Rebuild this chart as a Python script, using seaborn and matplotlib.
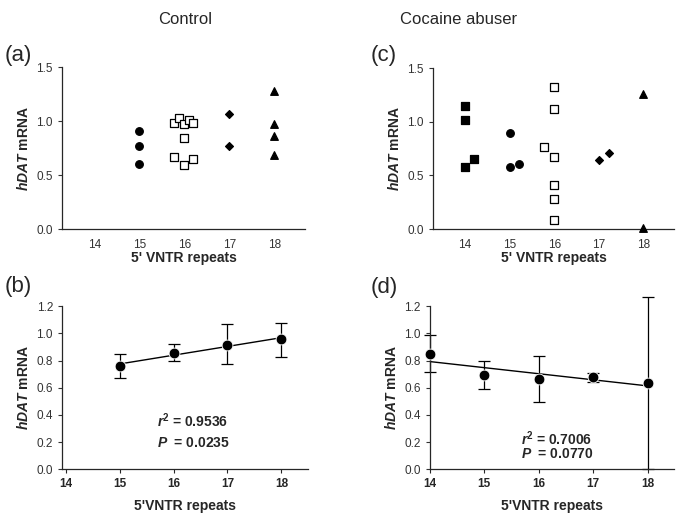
import numpy as np
import pandas as pd
import matplotlib
matplotlib.use("Agg")
import matplotlib.pyplot as plt
import seaborn as sns

# (a) control: individual samples (x includes small horizontal spread as drawn)
ctrl_x = [15, 15, 15,
          15.77, 15.88, 15.99, 16.1, 16.2, 16.0, 15.77, 16.0, 16.2,
          17, 17,
          18, 18, 18, 18]
ctrl_y = [0.91, 0.77, 0.605,
          0.98, 1.03, 0.975, 1.01, 0.98, 0.846, 0.67, 0.59, 0.645,
          1.065, 0.77,
          1.28, 0.975, 0.864, 0.685]
ctrl_grp = ["15"] * 3 + ["16"] * 9 + ["17"] * 2 + ["18"] * 4

# (c) cocaine abuser: individual samples
coc_x = [14, 14, 14, 14.2,
         15, 15, 15.2,
         16, 16, 15.77, 16, 16, 16, 16,
         17, 17.22,
         18, 18]
coc_y = [1.143, 1.012, 0.58, 0.657,
         0.90, 0.576, 0.607,
         1.324, 1.12, 0.763, 0.676, 0.408, 0.28, 0.084,
         0.645, 0.71,
         1.262, 0.006]
coc_grp = ["14"] * 4 + ["15"] * 3 + ["16"] * 7 + ["17"] * 2 + ["18"] * 2

# (b) control means with error bar ends
ctrl_rep = [15, 16, 17, 18]
ctrl_mean = [0.76, 0.858, 0.914, 0.956]
ctrl_hi = [0.845, 0.919, 1.069, 1.078]
ctrl_lo = [0.672, 0.80, 0.775, 0.828]

# (d) cocaine means with error bar ends
coc_rep = [14, 15, 16, 17, 18]
coc_mean = [0.85, 0.694, 0.662, 0.676, 0.635]
coc_hi = [0.988, 0.797, 0.831, 0.706, 1.27]
coc_lo = [0.713, 0.593, 0.495, 0.642, 0.0]

stats_b = ["0.9536", "0.0235"]
stats_d = ["0.7006", "0.0770"]

sns.set_style("ticks")
plt.rcParams["font.family"] = ["Liberation Sans", "DejaVu Sans"]
plt.rcParams["mathtext.fontset"] = "custom"
plt.rcParams["mathtext.it"] = "Liberation Sans:italic"
plt.rcParams["mathtext.bf"] = "Liberation Sans:bold"
plt.rcParams["mathtext.bfit"] = "Liberation Sans:bold:italic"
plt.rcParams["mathtext.rm"] = "Liberation Sans"

MARKERS = {"14": "s", "15": "o", "16": "s", "17": "D", "18": "^"}
FACES = {"14": "black", "15": "black", "16": "white", "17": "black", "18": "black"}
SIZES = {"14": 30, "15": 30, "16": 34, "17": 16, "18": 30}
TICKCOL = "#333333"
YLAB = r"$\mathbfit{hDAT}$ mRNA"

fig = plt.figure(figsize=(6.82, 5.16), dpi=100)
ax_a = fig.add_axes([0.091, 0.556, 0.356, 0.314])
ax_c = fig.add_axes([0.635, 0.556, 0.353, 0.312])
ax_b = fig.add_axes([0.091, 0.0905, 0.361, 0.316])
ax_d = fig.add_axes([0.630, 0.0905, 0.358, 0.316])


def scatter_panel(ax, xs, ys, grps):
    df = pd.DataFrame({"x": xs, "y": ys, "g": grps})
    for g, sub in df.groupby("g"):
        sns.scatterplot(data=sub, x="x", y="y", marker=MARKERS[g], s=SIZES[g],
                        color=FACES[g], edgecolor="black", linewidth=0.9,
                        ax=ax, legend=False, zorder=3, clip_on=False)
    ax.set_xlim(13.28, 18.68)
    ax.set_ylim(0, 1.5)
    ax.set_xticks([14, 15, 16, 17, 18])
    ax.set_yticks([0.0, 0.5, 1.0, 1.5])
    ax.yaxis.set_major_formatter(matplotlib.ticker.FormatStrFormatter("%.1f"))
    ax.tick_params(axis="x", length=0, pad=7, labelsize=8.5, colors=TICKCOL)
    ax.tick_params(axis="y", length=3, width=0.8, labelsize=8.5, colors=TICKCOL)
    ax.set_xlabel("5' VNTR repeats", fontsize=10, fontweight="bold", labelpad=0)
    ax.set_ylabel(YLAB, fontsize=10, fontweight="bold", labelpad=4)
    sns.despine(ax=ax)
    for sp in ax.spines.values():
        sp.set_linewidth(0.9)


def mean_panel(ax, reps, means, hi, lo, stats, xlim, txt_xy, gap):
    means = np.array(means)
    err = [means - np.array(lo), np.array(hi) - means]
    eb = ax.errorbar(reps, means, yerr=err, fmt="none", ecolor="black",
                     elinewidth=0.9, capsize=4, capthick=0.9, zorder=2)
    for art in eb.lines[1] + eb.lines[2]:
        art.set_clip_on(False)
    df = pd.DataFrame({"x": reps, "y": means})
    sns.regplot(data=df, x="x", y="y", ci=None, scatter=False, ax=ax,
                line_kws={"color": "black", "linewidth": 1.0})
    sns.scatterplot(data=df, x="x", y="y", s=60, color="black", ax=ax,
                    legend=False, zorder=4, clip_on=False)
    ax.set_xlim(*xlim)
    ax.set_ylim(0, 1.2)
    ax.set_xticks([14, 15, 16, 17, 18])
    ax.set_yticks(np.arange(0, 1.21, 0.2))
    ax.yaxis.set_major_formatter(matplotlib.ticker.FormatStrFormatter("%.1f"))
    ax.tick_params(axis="x", length=3, width=0.8, labelsize=8.5)
    for lab in ax.get_xticklabels():
        lab.set_fontweight("bold")
    ax.tick_params(axis="y", length=3, width=0.8, labelsize=8.5, colors=TICKCOL)
    ax.set_xlabel("5'VNTR repeats", fontsize=10, fontweight="bold", labelpad=6)
    ax.set_ylabel(YLAB, fontsize=10, fontweight="bold", labelpad=4)
    ax.text(txt_xy[0], txt_xy[1], r"$\mathbfit{r}^{\mathbf{2}}$ = " + stats[0],
            fontsize=10, fontweight="bold", ha="left", va="center")
    ax.text(txt_xy[0], txt_xy[1] - gap, r"$\mathbfit{P}$  = " + stats[1],
            fontsize=10, fontweight="bold", ha="left", va="center")
    sns.despine(ax=ax)
    for sp in ax.spines.values():
        sp.set_linewidth(0.9)


scatter_panel(ax_a, ctrl_x, ctrl_y, ctrl_grp)
scatter_panel(ax_c, coc_x, coc_y, coc_grp)
mean_panel(ax_b, ctrl_rep, ctrl_mean, ctrl_hi, ctrl_lo, stats_b, (13.93, 18.5),
           (15.7, 0.36), 0.17)
mean_panel(ax_d, coc_rep, coc_mean, coc_hi, coc_lo, stats_d, (14.0, 18.48),
           (15.67, 0.225), 0.115)

fig.text(0.272, 0.962, "Control", fontsize=12, ha="center", va="center")
fig.text(0.672, 0.962, "Cocaine abuser", fontsize=12, ha="center", va="center")
for lbl, x, y in [("(a)", 0.007, 0.893), ("(c)", 0.543, 0.893),
                  ("(b)", 0.007, 0.445), ("(d)", 0.543, 0.442)]:
    fig.text(x, y, lbl, fontsize=16, ha="left", va="center")

fig.savefig("out.png", dpi=100)
